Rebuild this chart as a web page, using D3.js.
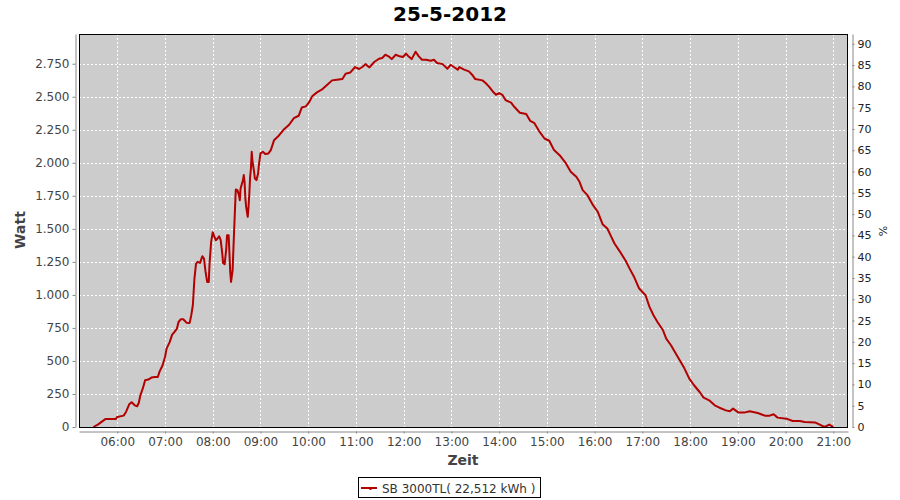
<!DOCTYPE html>
<html>
<head>
<meta charset="utf-8">
<script src="https://cdn.jsdelivr.net/npm/d3@7"></script>
<style>
  html, body { margin: 0; padding: 0; background: #ffffff; }
  svg { display: block; font-family: "DejaVu Sans", sans-serif; }
</style>
</head>
<body>
<svg id="chart" width="900" height="500"></svg>
<script>
// ---- data ----
const chartTitle = "25-5-2012";
const seriesName = "SB 3000TL( 22,512 kWh )";
const times = [
  "05:30","05:36","05:45","05:58","06:00","06:08","06:11","06:15","06:18","06:22",
  "06:25","06:27","06:29","06:32","06:35","06:39","06:43","06:47","06:51","06:53",
  "06:57","07:00","07:02","07:06","07:09","07:12","07:15","07:17","07:20","07:23",
  "07:27","07:31","07:33","07:35","07:37","07:39","07:41","07:44","07:47","07:49",
  "07:51","07:53","07:55","07:56","07:58","08:00","08:02","08:04","08:06","08:08",
  "08:10","08:12","08:13","08:15","08:17","08:18","08:20","08:21","08:22","08:23",
  "08:25","08:26","08:27","08:28","08:29","08:31","08:33","08:34","08:35","08:38",
  "08:39","08:40","08:41","08:42","08:44","08:45","08:46","08:47","08:48","08:49",
  "08:50","08:52","08:53","08:55","08:57","08:58","09:00","09:03","09:06","09:10",
  "09:13","09:17","09:23","09:29","09:36","09:42","09:48","09:52","09:57","10:01",
  "10:05","10:11","10:18","10:24","10:30","10:36","10:43","10:47","10:53","10:59",
  "11:04","11:08","11:12","11:17","11:23","11:29","11:33","11:37","11:42","11:45",
  "11:50","11:55","11:59","12:03","12:06","12:10","12:15","12:19","12:23","12:28",
  "12:34","12:38","12:42","12:49","12:55","12:59","13:03","13:08","13:10","13:16",
  "13:22","13:26","13:30","13:39","13:43","13:47","13:52","13:56","14:00","14:04",
  "14:08","14:15","14:19","14:26","14:34","14:39","14:44","14:50","14:57","15:03",
  "15:09","15:16","15:24","15:30","15:37","15:41","15:45","15:51","15:58","16:04",
  "16:10","16:16","16:21","16:25","16:32","16:39","16:44","16:50","16:56","17:04",
  "17:09","17:14","17:19","17:26","17:30","17:36","17:42","17:47","17:53","17:59",
  "18:05","18:12","18:17","18:24","18:31","18:37","18:45","18:50","18:54","19:01",
  "19:08","19:15","19:25","19:34","19:40","19:45","19:50","20:01","20:09","20:18",
  "20:24","20:37","20:43","20:49","20:55","21:00"
];
const watts = [
  0,20,60,60,76,86,114,172,187,164,
  157,182,240,290,354,359,374,379,379,417,
  467,530,593,644,699,720,745,795,816,816,
  790,788,846,922,1124,1237,1250,1242,1293,1275,
  1174,1098,1098,1237,1402,1475,1440,1414,1427,1444,
  1414,1313,1242,1232,1351,1452,1452,1313,1174,1098,
  1187,1351,1503,1654,1798,1793,1755,1717,1806,1869,
  1907,1856,1730,1667,1591,1667,1768,1894,1957,2083,
  2008,1932,1881,1869,1919,1982,2071,2083,2066,2071,
  2096,2170,2205,2250,2288,2338,2356,2419,2427,2457,
  2503,2533,2558,2591,2624,2629,2634,2674,2684,2725,
  2710,2725,2747,2722,2763,2788,2793,2818,2801,2785,
  2818,2806,2801,2826,2806,2785,2841,2806,2780,2780,
  2773,2780,2755,2747,2712,2742,2725,2705,2725,2705,
  2692,2667,2634,2624,2604,2578,2540,2515,2528,2515,
  2475,2455,2424,2379,2369,2318,2303,2242,2184,2167,
  2096,2058,1995,1932,1894,1856,1793,1755,1679,1629,
  1535,1503,1439,1389,1326,1258,1199,1131,1048,997,
  909,846,795,732,669,619,556,505,442,366,
  316,265,222,202,164,146,126,119,139,109,
  109,119,106,86,86,96,71,63,45,45,
  38,35,18,0,18,0
];
const xTickLabels = ["06:00","07:00","08:00","09:00","10:00","11:00","12:00","13:00","14:00","15:00","16:00","17:00","18:00","19:00","20:00","21:00"];
const leftTicks = [0,250,500,750,1000,1250,1500,1750,2000,2250,2500,2750];
const rightTicks = [0,5,10,15,20,25,30,35,40,45,50,55,60,65,70,75,80,85,90];

// ---- layout ----
const day = "2012-05-25 ";
const parse = d3.timeParse("%Y-%m-%d %H:%M:%S");
const parseHM = s => parse(day + s + ":00");
const data = times.map((t, i) => ({ t: parseHM(t), v: watts[i] }));

const plot = { left: 79, right: 848, top: 34, bottom: 427 };
const svg = d3.select("#chart");

const x = d3.scaleTime()
  .domain([parse(day + "05:11:54"), parse(day + "21:18:30")])
  .range([plot.left, plot.right]);
const y = d3.scaleLinear().domain([0, 2975]).range([plot.bottom, plot.top]);
const yR = d3.scaleLinear().domain([0, 92.3]).range([plot.bottom, plot.top]);

const xTicks = xTickLabels.map(parseHM);

// plot background
svg.append("rect")
  .attr("x", plot.left).attr("y", plot.top)
  .attr("width", plot.right - plot.left).attr("height", plot.bottom - plot.top)
  .attr("fill", "#cccccc");

// grid
const grid = svg.append("g").attr("stroke", "#ffffff").attr("stroke-width", 1)
  .attr("stroke-dasharray", "2,2").attr("shape-rendering", "crispEdges");
grid.selectAll(".gh").data(leftTicks.slice(1)).enter().append("line")
  .attr("x1", plot.left).attr("x2", plot.right)
  .attr("y1", d => Math.round(y(d)) + 0.5).attr("y2", d => Math.round(y(d)) + 0.5);
grid.selectAll(".gv").data(xTicks).enter().append("line")
  .attr("y1", plot.top).attr("y2", plot.bottom)
  .attr("x1", d => Math.round(x(d)) + 0.5).attr("x2", d => Math.round(x(d)) + 0.5);

// series line
const line = d3.line().x(d => x(d.t)).y(d => y(d.v)).curve(d3.curveLinear);
svg.append("path").datum(data)
  .attr("d", line)
  .attr("fill", "none")
  .attr("stroke", "#b30000")
  .attr("stroke-width", 2)
  .attr("stroke-linejoin", "round");

// plot border
svg.append("rect")
  .attr("x", plot.left + 0.5).attr("y", plot.top + 0.5)
  .attr("width", plot.right - plot.left - 1).attr("height", plot.bottom - plot.top)
  .attr("fill", "none").attr("stroke", "#000000").attr("stroke-width", 1);

// axes
function styleAxis(g, fontSize, color) {
  g.select(".domain").attr("stroke", "#888888");
  g.selectAll(".tick line").attr("stroke", "#888888");
  g.selectAll(".tick text").attr("fill", color)
    .attr("font-size", fontSize).attr("font-family", "DejaVu Sans, sans-serif");
}

const xAxis = d3.axisBottom(x).tickValues(xTicks)
  .tickFormat((d, i) => xTickLabels[i]).tickSizeInner(2).tickSizeOuter(0).tickPadding(4);
svg.append("g").attr("transform", "translate(0,431.5)").call(xAxis)
  .call(g => styleAxis(g, 12, "#444444"));

const yAxis = d3.axisLeft(y).tickValues(leftTicks)
  .tickFormat(d3.format(",")).tickSizeInner(3).tickSizeOuter(0).tickPadding(3);
const yAxisG = svg.append("g").attr("transform", "translate(75.5,0)").call(yAxis)
  .call(g => styleAxis(g, 12, "#444444"));
yAxisG.selectAll(".tick text").text(d => d3.format(",")(d).replace(/,/g, "."));

const yRAxis = d3.axisRight(yR).tickValues(rightTicks)
  .tickSizeInner(2).tickSizeOuter(0).tickPadding(3);
svg.append("g").attr("transform", "translate(852.5,0)").call(yRAxis)
  .call(g => styleAxis(g, 11, "#222222"));

// title & axis labels
svg.append("text").attr("x", 450).attr("y", 21).attr("text-anchor", "middle")
  .attr("font-size", 20).attr("font-weight", "bold").attr("fill", "#000000")
  .text(chartTitle);

svg.append("text").attr("transform", "translate(25,230) rotate(-90)")
  .attr("text-anchor", "middle").attr("font-size", 14).attr("font-weight", "bold")
  .attr("fill", "#444444").text("Watt");

svg.append("text").attr("x", 463).attr("y", 465).attr("text-anchor", "middle")
  .attr("font-size", 14).attr("font-weight", "bold").attr("fill", "#444444").text("Zeit");

svg.append("text").attr("transform", "translate(887,231) rotate(-90)")
  .attr("text-anchor", "middle").attr("font-size", 11)
  .attr("fill", "#222222").text("%");

// legend
const lg = svg.append("g");
lg.append("rect").attr("x", 358.5).attr("y", 477.5).attr("width", 182).attr("height", 20)
  .attr("fill", "#ffffff").attr("stroke", "#000000").attr("stroke-width", 1);
lg.append("line").attr("x1", 361).attr("x2", 377).attr("y1", 488).attr("y2", 488)
  .attr("stroke", "#b30000").attr("stroke-width", 2);
lg.append("rect").attr("x", 369.5).attr("y", 487).attr("width", 2).attr("height", 3)
  .attr("fill", "#b30000");
lg.append("text").attr("x", 382).attr("y", 492.5).attr("font-size", 12)
  .attr("fill", "#333333").text(seriesName);
</script>
</body>
</html>
